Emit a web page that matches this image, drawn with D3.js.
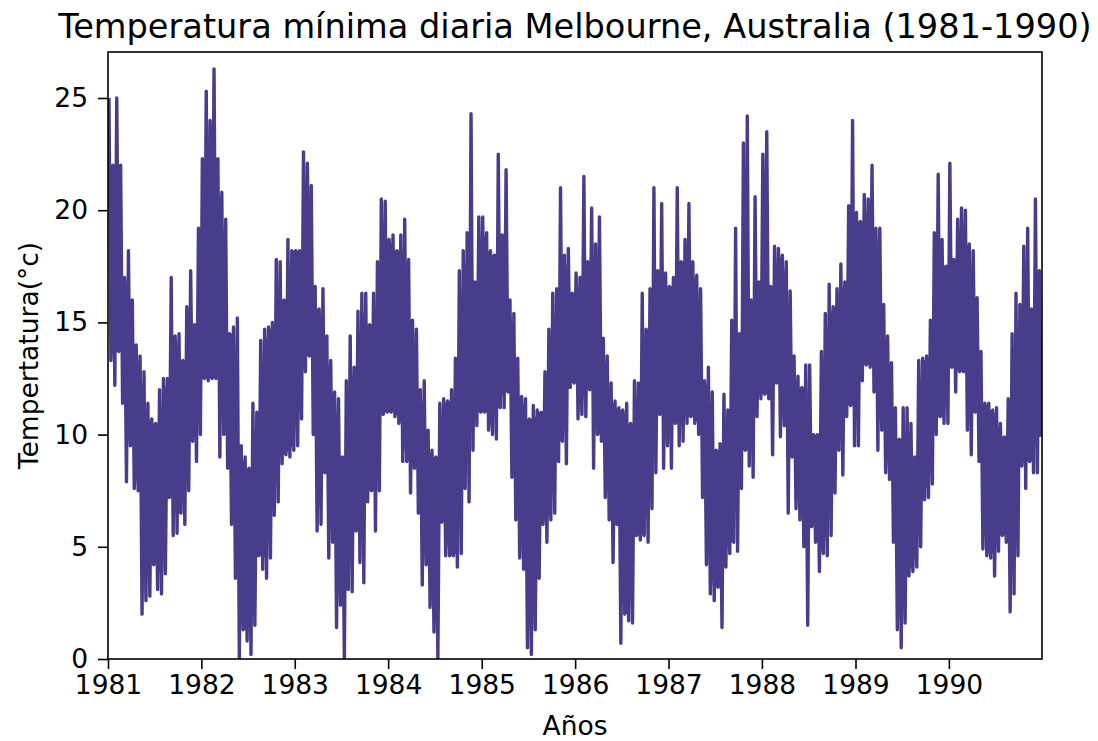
<!DOCTYPE html>
<html>
<head>
<meta charset="utf-8">
<script src="https://cdn.jsdelivr.net/npm/d3@7"></script>
<style>
  body { margin: 0; background: #fff; }
  svg { font-family: "DejaVu Sans", sans-serif; }
</style>
</head>
<body>
<svg id="chart" width="1098" height="741"></svg>
<script>
// years shown on the chart
var years = [1981, 1982, 1983, 1984, 1985, 1986, 1987, 1988, 1989, 1990];

// highest daily minimum in each half-month (24 per year)
var highs = [
  [25.0, 22.0, 25.0, 22.0, 17.0, 18.2, 16.0, 14.0, 13.5, 12.8, 11.4, 10.7, 10.5, 12.0, 12.5, 12.5, 17.0, 14.4, 14.5, 13.3, 15.7, 17.3, 14.9, 19.2],
  [22.3, 25.3, 24.0, 26.3, 22.3, 20.8, 19.6, 14.5, 14.8, 15.2, 9.5, 9.0, 8.5, 11.4, 11.0, 14.2, 14.7, 14.8, 15.0, 17.8, 17.7, 16.0, 18.7, 18.2],
  [18.2, 18.2, 22.6, 22.1, 21.1, 16.6, 15.6, 16.5, 14.4, 13.3, 11.9, 11.6, 9.0, 12.4, 14.4, 13.0, 15.5, 16.3, 16.3, 14.9, 16.3, 17.7, 20.5, 20.4],
  [18.7, 18.9, 18.2, 18.9, 19.6, 17.8, 15.1, 14.7, 12.0, 12.4, 10.2, 9.3, 9.0, 11.4, 11.6, 11.5, 12.0, 13.4, 17.3, 18.2, 19.0, 24.3, 16.8, 19.7],
  [19.7, 19.0, 18.2, 18.0, 22.5, 18.9, 21.8, 16.0, 15.4, 13.4, 11.7, 11.6, 10.7, 11.3, 11.1, 11.0, 12.8, 14.7, 16.3, 16.5, 21.0, 18.0, 18.3, 16.3],
  [17.2, 17.0, 21.5, 17.7, 20.1, 18.5, 19.7, 14.3, 13.5, 12.3, 11.5, 11.2, 11.1, 11.4, 10.5, 12.4, 12.3, 16.3, 14.7, 16.5, 21.0, 17.3, 20.3, 17.2],
  [16.6, 17.0, 21.0, 17.7, 18.7, 20.3, 17.7, 17.1, 16.5, 12.4, 13.0, 11.9, 9.3, 9.6, 11.8, 11.1, 15.1, 19.2, 14.5, 23.0, 24.2, 16.0, 20.6, 16.8],
  [22.5, 23.5, 16.6, 18.4, 18.3, 18.0, 17.7, 16.4, 13.5, 12.6, 12.1, 13.1, 13.1, 10.0, 10.0, 13.7, 15.4, 16.7, 15.7, 16.5, 17.6, 16.8, 20.2, 24.0],
  [19.9, 19.5, 20.7, 20.5, 22.0, 19.2, 19.2, 15.8, 14.4, 13.2, 11.2, 9.8, 11.2, 11.2, 10.5, 9.0, 13.3, 13.4, 13.5, 15.1, 19.0, 21.6, 18.7, 17.5],
  [22.1, 17.8, 19.6, 20.1, 20.0, 18.5, 18.2, 16.1, 13.7, 11.4, 11.4, 11.1, 11.2, 10.5, 9.9, 11.6, 14.5, 16.3, 15.8, 18.4, 19.2, 15.6, 20.5, 17.3]
];

// lowest daily minimum in each half-month
var lows = [
  [13.3, 12.2, 13.7, 11.4, 7.9, 9.5, 7.6, 7.5, 2.0, 2.6, 2.8, 4.2, 3.1, 2.9, 3.8, 7.2, 5.5, 5.6, 6.5, 6.0, 7.5, 9.7, 8.8, 10.0],
  [12.5, 12.4, 12.5, 12.5, 9.0, 10.0, 8.5, 6.0, 3.6, 0.0, 1.3, 0.8, 0.2, 1.5, 4.6, 4.0, 3.6, 4.5, 6.4, 7.0, 8.7, 9.1, 9.0, 9.3],
  [9.5, 10.7, 12.8, 13.5, 10.0, 5.7, 6.0, 8.3, 4.5, 5.2, 1.4, 2.4, 0.0, 3.1, 3.0, 5.7, 4.3, 3.4, 7.0, 7.5, 5.7, 7.5, 10.9, 11.0],
  [11.0, 10.8, 10.5, 8.8, 8.8, 7.4, 8.5, 6.5, 3.3, 4.2, 2.3, 1.2, 0.0, 6.1, 4.6, 4.6, 4.6, 4.1, 4.7, 7.6, 7.0, 9.3, 10.4, 11.0],
  [11.0, 10.2, 10.0, 9.8, 11.2, 11.2, 11.9, 8.1, 6.2, 4.5, 4.0, 0.5, 0.2, 1.3, 3.6, 6.0, 5.2, 6.2, 6.5, 8.8, 9.7, 8.7, 12.1, 12.3],
  [10.7, 10.9, 10.8, 12.0, 8.5, 10.0, 9.7, 7.2, 6.2, 4.3, 6.0, 0.7, 2.0, 1.7, 1.6, 5.5, 5.3, 5.5, 5.2, 6.7, 8.3, 10.9, 8.5, 9.5],
  [8.5, 10.5, 9.5, 9.7, 10.5, 10.8, 10.5, 10.0, 7.2, 4.2, 2.9, 2.6, 3.2, 1.4, 4.1, 4.7, 5.2, 4.8, 7.6, 9.3, 8.6, 8.1, 10.8, 11.6],
  [11.8, 11.6, 9.1, 12.3, 9.9, 10.4, 6.5, 9.0, 6.7, 6.2, 5.0, 1.5, 5.9, 5.2, 3.9, 4.7, 4.6, 5.5, 7.4, 9.3, 8.2, 10.8, 11.3, 9.5],
  [9.5, 12.4, 13.1, 13.0, 11.9, 9.3, 10.2, 8.3, 8.0, 5.2, 1.3, 0.5, 1.6, 3.7, 3.9, 4.1, 5.0, 7.1, 7.2, 7.8, 10.0, 10.8, 10.5, 10.5],
  [13.0, 11.9, 12.8, 12.8, 10.2, 9.1, 11.0, 8.8, 4.9, 4.6, 4.5, 3.7, 4.8, 5.5, 5.2, 2.1, 2.9, 4.6, 8.6, 7.6, 8.8, 8.3, 8.3, 9.9]
];

var yTicks = [0, 5, 10, 15, 20, 25];

var width = 1098,
    height = 741,
    margin = {top: 52, right: 56, bottom: 82, left: 108},
    color = "#483d8b";

var svg = d3.select("#chart");

// put a reading at its place in the year
function at(year, frac) {
    var start = new Date(year, 0, 1), end = new Date(year + 1, 0, 1);
    return new Date(start.getTime() + frac * (end - start));
}

// one entry per half-month window, in order
var windows = [];
years.forEach(function(yr, i) {
    highs[i].forEach(function(h, k) {
        windows.push({year: yr, k: k, hi: h, lo: lows[i][k]});
    });
});

// zigzag between each window's high and low
var points = [];
windows.forEach(function(w) {
    points.push({date: at(w.year, (w.k + 0.25) / 24), temp: w.hi});
    points.push({date: at(w.year, (w.k + 0.75) / 24), temp: w.lo});
});

// solid core of the band: what the neighbouring windows all cover
var core = windows.map(function(w, j) {
    var nb = windows.slice(Math.max(0, j - 1), j + 2);
    var top = d3.min(nb, function(d) { return d.hi; }),
        bot = d3.max(nb, function(d) { return d.lo; });
    if (top < bot) top = bot = (top + bot) / 2;
    return {date: at(w.year, (w.k + 0.5) / 24), top: top, bot: bot};
});

var x = d3.scaleTime()
    .domain([new Date(1981, 0, 1), new Date(1990, 11, 31)])
    .range([margin.left, width - margin.right]);

var y = d3.scaleLinear()
    .domain([0, 27.05])
    .range([height - margin.bottom, margin.top]);

var line = d3.line()
    .x(function(d) { return x(d.date); })
    .y(function(d) { return y(d.temp); });

var area = d3.area()
    .x(function(d) { return x(d.date); })
    .y0(function(d) { return y(d.bot); })
    .y1(function(d) { return y(d.top); });

svg.append("defs").append("clipPath")
    .attr("id", "plot")
    .append("rect")
    .attr("x", margin.left)
    .attr("y", margin.top)
    .attr("width", width - margin.left - margin.right)
    .attr("height", height - margin.top - margin.bottom);

var plot = svg.append("g").attr("clip-path", "url(#plot)");

plot.append("path")
    .datum(core)
    .attr("fill", color)
    .attr("d", area);

plot.append("path")
    .datum(points)
    .attr("fill", "none")
    .attr("stroke", color)
    .attr("stroke-width", 3.4)
    .attr("stroke-linejoin", "round")
    .attr("d", line);

// x axis
svg.append("g")
    .attr("transform", "translate(0," + (height - margin.bottom) + ")")
    .call(d3.axisBottom(x)
        .ticks(d3.timeYear.every(1))
        .tickFormat(d3.timeFormat("%Y"))
        .tickSize(10)
        .tickPadding(6)
        .tickSizeOuter(0));

// y axis
svg.append("g")
    .attr("transform", "translate(" + margin.left + ",0)")
    .call(d3.axisLeft(y)
        .tickValues(yTicks)
        .tickSize(10)
        .tickPadding(10)
        .tickSizeOuter(0));

svg.selectAll(".domain").remove();
svg.selectAll(".tick line").attr("stroke", "#000").attr("stroke-width", 1.6);
svg.selectAll(".tick text")
    .attr("fill", "#000")
    .style("font-size", "26.5px")
    .style("font-family", "DejaVu Sans");

// frame
svg.append("rect")
    .attr("x", margin.left)
    .attr("y", margin.top)
    .attr("width", width - margin.left - margin.right)
    .attr("height", height - margin.top - margin.bottom)
    .attr("fill", "none")
    .attr("stroke", "#000")
    .attr("stroke-width", 1.6);

// title
svg.append("text")
    .attr("x", (margin.left + width - margin.right) / 2)
    .attr("y", 38)
    .attr("text-anchor", "middle")
    .style("font-size", "33.6px")
    .text("Temperatura mínima diaria Melbourne, Australia (1981-1990)");

// axis labels
svg.append("text")
    .attr("x", (margin.left + width - margin.right) / 2)
    .attr("y", 735)
    .attr("text-anchor", "middle")
    .style("font-size", "26.5px")
    .text("Años");

svg.append("text")
    .attr("transform", "translate(38," + ((margin.top + height - margin.bottom) / 2) + ") rotate(-90)")
    .attr("text-anchor", "middle")
    .style("font-size", "26.5px")
    .text("Tempertatura(°c)");
</script>
</body>
</html>
